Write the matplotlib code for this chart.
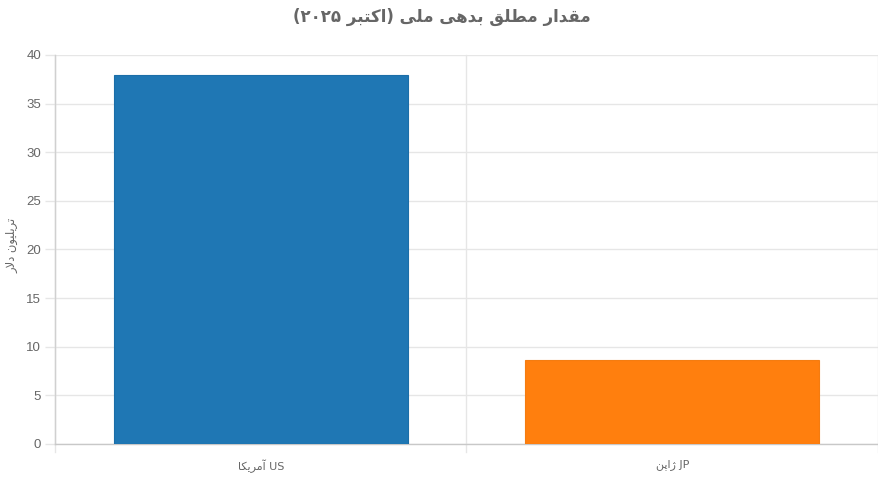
import matplotlib
matplotlib.use("Agg")
import matplotlib.pyplot as plt

categories = ["آمریکا", "ژاپن"]
codes = ["US", "JP"]
values = [37.9, 8.65]
colors = ["#1f77b4", "#ff7f0e"]
edge_colors = ["#1b6ea8", "#f47c10"]
y_ticks = [0, 5, 10, 15, 20, 25, 30, 35, 40]
title_words = ["مقدار", "مطلق", "بدهی", "ملی"]
title_paren_word = "اکتبر"
title_year = "۲۰۲۵"
y_label_words = ["تریلیون", "دلار"]

# --- minimal Persian shaping (presentation forms) for matplotlib ---
FORMS = {
    "ا": ("\uFE8D", "\uFE8E", None, None),
    "آ": ("\uFE81", "\uFE82", None, None),
    "ب": ("\uFE8F", "\uFE90", "\uFE91", "\uFE92"),
    "پ": ("\uFB56", "\uFB57", "\uFB58", "\uFB59"),
    "ت": ("\uFE95", "\uFE96", "\uFE97", "\uFE98"),
    "د": ("\uFEA9", "\uFEAA", None, None),
    "ر": ("\uFEAD", "\uFEAE", None, None),
    "ژ": ("\uFB8A", "\uFB8B", None, None),
    "ط": ("\uFEC1", "\uFEC2", "\uFEC3", "\uFEC4"),
    "ق": ("\uFED5", "\uFED6", "\uFED7", "\uFED8"),
    "ک": ("\uFB8E", "\uFB8F", "\uFB90", "\uFB91"),
    "ل": ("\uFEDD", "\uFEDE", "\uFEDF", "\uFEE0"),
    "م": ("\uFEE1", "\uFEE2", "\uFEE3", "\uFEE4"),
    "ن": ("\uFEE5", "\uFEE6", "\uFEE7", "\uFEE8"),
    "ه": ("\uFEE9", "\uFEEA", "\uFEEB", "\uFEEC"),
    "و": ("\uFEED", "\uFEEE", None, None),
    "ی": ("\uFBFC", "\uFBFD", "\uFBFE", "\uFBFF"),
}
LAM_ALEF = {"ا": ("\uFEFB", "\uFEFC"), "آ": ("\uFEF5", "\uFEF6")}


def dual(c):
    return c in FORMS and FORMS[c][2] is not None


def shape(word):
    out = []
    i = 0
    n = len(word)
    while i < n:
        c = word[i]
        prev = word[i - 1] if i > 0 else None
        jp = prev is not None and dual(prev) and c in FORMS
        if c == "ل" and i + 1 < n and word[i + 1] in LAM_ALEF:
            out.append(LAM_ALEF[word[i + 1]][1 if jp else 0])
            i += 2
            continue
        nxt = word[i + 1] if i + 1 < n else None
        jn = dual(c) and nxt is not None and nxt in FORMS
        f = FORMS.get(c)
        if f is None:
            out.append(c)
        elif jp and jn:
            out.append(f[3])
        elif jp:
            out.append(f[1])
        elif jn:
            out.append(f[2])
        else:
            out.append(f[0])
        i += 1
    return "".join(reversed(out))


def rtl(words):
    return " ".join(shape(w) for w in reversed(words))


title_visual = "(" + title_year + " " + shape(title_paren_word) + ") " + rtl(title_words)
ylabel_visual = rtl(y_label_words)
xlabels = [shape(c) + " " + code for c, code in zip(categories, codes)]

W, H = 879, 478
fig = plt.figure(figsize=(W / 100, H / 100), dpi=100)
L, R, B, T = 55, 878, 444, 55
ax = fig.add_axes([L / W, 1 - B / H, (R - L) / W, (B - T) / H])

txt = "#666666"
grid = "#e6e6e6"

x = list(range(len(values)))
ax.bar(x, values, width=0.714, color=colors, edgecolor=edge_colors, linewidth=0.8, zorder=3)

ax.set_xlim(-0.5, len(values) - 0.5)
ax.set_ylim(0, 40)
ax.set_yticks(y_ticks)
ax.set_yticklabels([str(v) for v in y_ticks], fontsize=9.5, color=txt,
                   family=["Liberation Sans", "DejaVu Sans"])
ax.set_xticks(x)
ax.set_xticklabels(xlabels, fontsize=8.0, color=txt, family=["DejaVu Sans"])
ax.tick_params(axis="y", length=7, color=grid, width=1, pad=3)
ax.tick_params(axis="x", length=0, pad=11)

# vertical grid lines at category boundaries (with short ticks below)
for b in [i - 0.5 for i in range(len(values) + 1)]:
    ax.plot([b, b], [0, 40], color=grid, lw=1, zorder=1, clip_on=False)
    ax.plot([b, b], [0, -0.8], color=grid, lw=1, zorder=1, clip_on=False)
ax.grid(axis="y", color=grid, lw=1, zorder=0)

for s in ["top", "right"]:
    ax.spines[s].set_visible(False)
ax.spines["left"].set_color("#d0d0d0")
ax.spines["bottom"].set_color("#c8c8c8")
ax.spines["left"].set_linewidth(1)
ax.spines["bottom"].set_linewidth(1)

fig.text(442 / W, 1 - 17 / H, title_visual, ha="center", va="center",
         fontsize=12, fontweight="bold", color=txt, family=["DejaVu Sans"])
fig.text(12 / W, 1 - 245 / H, ylabel_visual, ha="center", va="center",
         rotation=90, fontsize=8.3, color=txt, family=["DejaVu Sans"])

fig.savefig("out.png", dpi=100)
